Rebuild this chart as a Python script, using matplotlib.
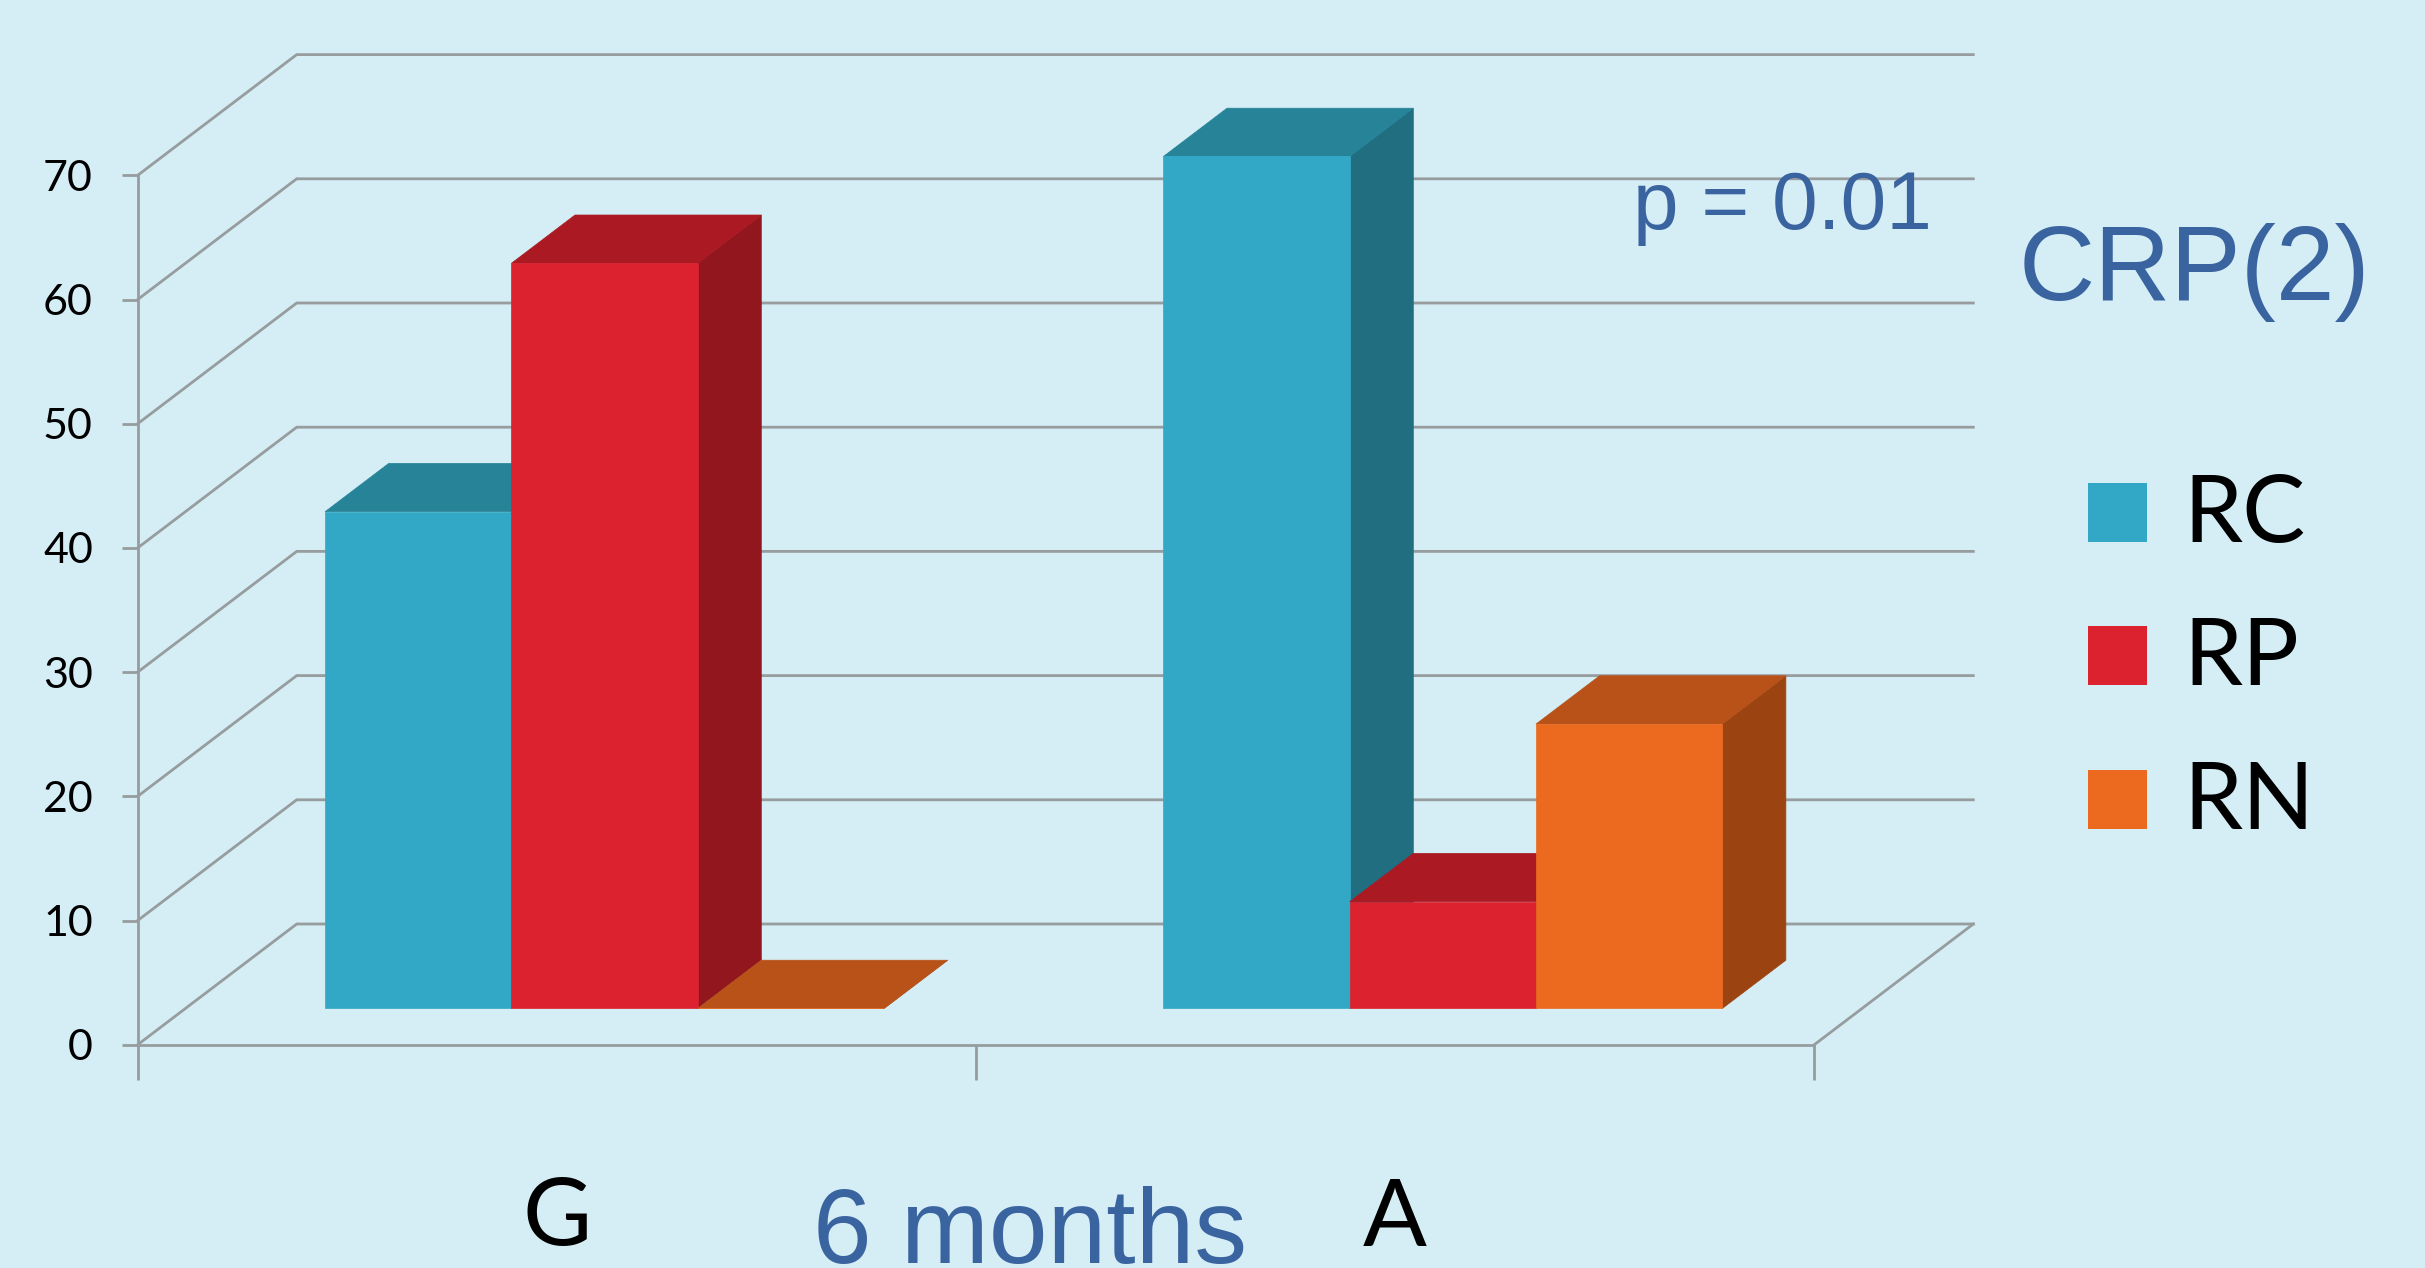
import matplotlib
matplotlib.use("Agg")
import matplotlib.pyplot as plt
from matplotlib.patches import Polygon, Rectangle

# ---------------- data ----------------
categories = ["G", "A"]
series_names = ["RC", "RP", "RN"]
rc_values = [40.0, 68.6]
rp_values = [60.0, 8.6]
rn_values = [0.0, 22.9]
y_ticks = [0, 10, 20, 30, 40, 50, 60, 70]
x_title = "6 months"
p_text = "p = 0.01"
chart_title = "CRP(2)"

# ---------------- styles ----------------
front_colors = ["#33A8C6", "#DC222E", "#EC6A20"]
top_colors = ["#268398", "#AB1A22", "#B85218"]
side_colors = ["#206E80", "#92161E", "#9B4412"]
bg = "#D5EEF5"
grid_c = "#979C9E"
blue = "#3A64A0"

W, H, DPI = 2425, 1268, 100
fig = plt.figure(figsize=(W / DPI, H / DPI), dpi=DPI)
fig.patch.set_facecolor(bg)

# front plane of the 3-D box
x0, x1 = 137.7, 1814.3
y0px, ytop = 1044.7, 175.3
ax = fig.add_axes([x0 / W, 1 - y0px / H, (x1 - x0) / W, (y0px - ytop) / H])
n_cat = len(categories)
ax.set_xlim(0, n_cat)
ax.set_ylim(y_ticks[0], y_ticks[-1])
ax.patch.set_visible(False)

# oblique depth offset in data units
DX = 159.0 / ((x1 - x0) / n_cat)
DY = 120.7 * (y_ticks[-1] - y_ticks[0]) / (y0px - ytop)

lw = 2.0
for sp in ["top", "right"]:
    ax.spines[sp].set_visible(False)
for sp in ["left", "bottom"]:
    ax.spines[sp].set_color(grid_c)
    ax.spines[sp].set_linewidth(lw)

ax.set_yticks(y_ticks)
ax.set_yticklabels([str(t) for t in y_ticks])
ax.tick_params(axis="y", direction="out", length=11.3, width=lw, color=grid_c,
               pad=21, labelsize=31, labelcolor="black")
for lab in ax.get_yticklabels():
    lab.set_fontfamily("Lato")
ax.set_xticks(list(range(n_cat + 1)))
ax.set_xticklabels([])
ax.tick_params(axis="x", direction="out", length=25, width=lw, color=grid_c)

# walls gridlines
for v in y_ticks:
    ax.plot([0, DX, n_cat + DX], [v, v + DY, v + DY], color=grid_c, lw=lw,
            clip_on=False, zorder=1, solid_joinstyle="miter")
ax.plot([n_cat, n_cat + DX], [0, DY], color=grid_c, lw=lw, clip_on=False, zorder=1)

# bars
values = [rc_values, rp_values, rn_values]
BW = 1 / 4.5
s_front, depth = 0.3, 0.4
z = 3.0
for i in range(n_cat):
    for j in range(len(series_names)):
        v = values[j][i]
        xl = i + 0.5 + (j - 1.5) * BW + s_front * DX
        xr = xl + BW
        yb = s_front * DY
        yt = yb + v
        ddx, ddy = depth * DX, depth * DY
        side = Polygon([(xr, yb), (xr + ddx, yb + ddy), (xr + ddx, yt + ddy), (xr, yt)],
                       closed=True, facecolor=side_colors[j], edgecolor=side_colors[j],
                       lw=0.5, clip_on=False, zorder=z)
        ax.add_patch(side)
        top = Polygon([(xl, yt), (xr, yt), (xr + ddx, yt + ddy), (xl + ddx, yt + ddy)],
                      closed=True, facecolor=top_colors[j], edgecolor=top_colors[j],
                      lw=0.5, clip_on=False, zorder=z + 0.01)
        ax.add_patch(top)
        ax.bar([xl], [v], bottom=yb, width=BW, align="edge", color=front_colors[j],
               edgecolor=front_colors[j], lw=0.5, clip_on=False, zorder=z + 0.02)
        z += 0.1

# category labels
ylab = (y0px - 1245.5) * (y_ticks[-1] - y_ticks[0]) / (y0px - ytop)
for i, c in enumerate(categories):
    ax.text(i + 0.5, ylab, c, ha="center", va="baseline", fontsize=68,
            family="Lato", color="black", clip_on=False)

# texts
fig.text(813 / W, 1 - 1262.5 / H, x_title, ha="left", va="baseline", fontsize=76,
         family="Liberation Sans", color=blue)
fig.text(1932 / W, 1 - 229 / H, p_text, ha="right", va="baseline", fontsize=59,
         family="Liberation Sans", color=blue)
fig.text(2019 / W, 1 - 300 / H, chart_title, ha="left", va="baseline", fontsize=76,
         family="Liberation Sans", color=blue)

# legend
sq_top = [483, 626, 770]
for j, name in enumerate(series_names):
    fig.patches.append(Rectangle((2088 / W, 1 - (sq_top[j] + 59) / H), 59 / W, 59 / H,
                                 transform=fig.transFigure, facecolor=front_colors[j],
                                 edgecolor="none"))
    fig.text(2183 / W, 1 - (sq_top[j] + 59) / H, name, ha="left", va="baseline",
             fontsize=68, family="Lato", color="black")

fig.savefig("out.png", dpi=DPI, facecolor=bg)
